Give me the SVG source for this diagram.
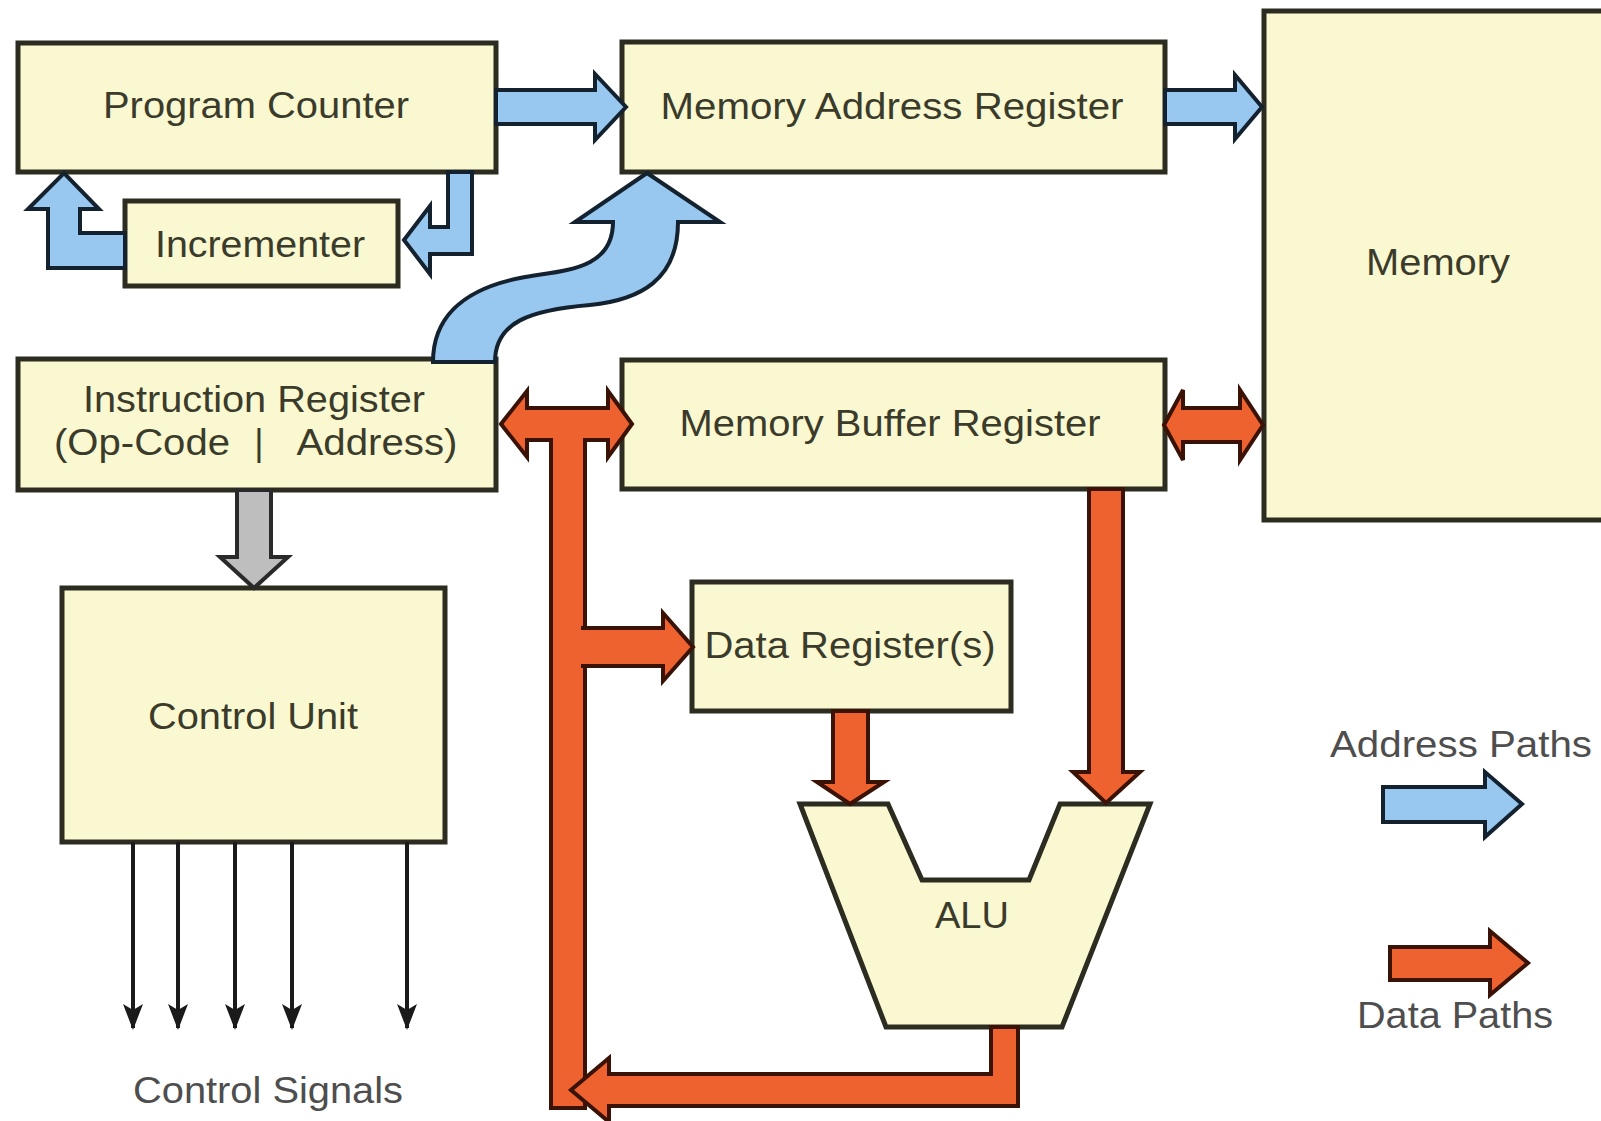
<svg xmlns="http://www.w3.org/2000/svg" width="1601" height="1121" viewBox="0 0 1601 1121">
<defs>
<style>
.box{fill:#FAF8D0;stroke:#2C2C20;stroke-width:5;}
.lbl{font-family:"Liberation Sans",Arial,sans-serif;font-size:36px;fill:#3B3B2B;text-anchor:middle;}
.note{font-family:"Liberation Sans",Arial,sans-serif;font-size:36px;fill:#4E4E4E;text-anchor:middle;}
.blue{fill:#98C7F0;stroke:#14222F;stroke-width:4;stroke-linejoin:miter;}
.red{fill:#EE6230;stroke:#3A1206;stroke-width:4;stroke-linejoin:miter;}
.redfill{fill:#EE6230;stroke:none;}
.gray{fill:#BEBEBE;stroke:#2A2A2A;stroke-width:4;}
.sig{stroke:#1A1A1A;stroke-width:4;fill:none;marker-end:url(#sa);}
</style>
<marker id="sa" viewBox="0 0 26 20" refX="24" refY="10" markerWidth="26" markerHeight="20" markerUnits="userSpaceOnUse" orient="auto">
<path d="M0,0 L26,10 L0,20 L6,10 Z" fill="#1A1A1A"/>
</marker>
</defs>
<rect width="1601" height="1121" fill="#FFFFFF"/>

<g id="node-pc"><rect class="box" x="18" y="43" width="478" height="129"/><text class="lbl" x="256" y="118" textLength="306" lengthAdjust="spacingAndGlyphs">Program Counter</text></g>
<g id="node-inc"><rect class="box" x="125" y="201" width="273" height="85"/><text class="lbl" x="260" y="257" textLength="210" lengthAdjust="spacingAndGlyphs">Incrementer</text></g>
<g id="node-mar"><rect class="box" x="622" y="42" width="543" height="130"/><text class="lbl" x="892" y="119" textLength="463" lengthAdjust="spacingAndGlyphs">Memory Address Register</text></g>
<g id="node-mem"><rect class="box" x="1264" y="11" width="400" height="509"/><text class="lbl" x="1438" y="275" textLength="144" lengthAdjust="spacingAndGlyphs">Memory</text></g>
<g id="node-ir"><rect class="box" x="18" y="359" width="478" height="131"/><text class="lbl" x="254" y="412" textLength="342" lengthAdjust="spacingAndGlyphs">Instruction Register</text><text class="lbl" y="455"><tspan x="142" textLength="176" lengthAdjust="spacingAndGlyphs">(Op-Code</tspan><tspan x="259">|</tspan><tspan x="377" textLength="161" lengthAdjust="spacingAndGlyphs">Address)</tspan></text></g>
<g id="node-mbr"><rect class="box" x="622" y="360" width="543" height="129"/><text class="lbl" x="890" y="436" textLength="421" lengthAdjust="spacingAndGlyphs">Memory Buffer Register</text></g>
<g id="node-cu"><rect class="box" x="62" y="588" width="383" height="254"/><text class="lbl" x="253" y="729" textLength="210" lengthAdjust="spacingAndGlyphs">Control Unit</text></g>
<g id="node-dr"><rect class="box" x="692" y="582" width="319" height="129"/><text class="lbl" x="850" y="658" textLength="291" lengthAdjust="spacingAndGlyphs">Data Register(s)</text></g>
<g id="node-alu"><polygon class="box" points="800,804 888,804 922,880 1029,880 1060,804 1150,804 1062,1027 886,1027"/><text class="lbl" x="972" y="928" textLength="74" lengthAdjust="spacingAndGlyphs">ALU</text></g>

<g id="connectors">
<path id="pc-mar" class="blue" d="M496,90 L595,90 L595,74 L626,107 L595,140 L595,124 L496,124 Z"/>
<path id="mar-mem" class="blue" d="M1165,90 L1235,90 L1235,75 L1262,107 L1235,139 L1235,124 L1165,124 Z"/>
<path id="pc-inc" class="blue" d="M448,172 L472,172 L472,254 L430,254 L430,274 L404,240 L430,206 L430,227 L448,227 Z"/>
<path id="inc-pc" class="blue" d="M125,233 L80,233 L80,209 L99,209 L64,173 L28,209 L48,209 L48,268 L125,268 Z"/>
<path id="ir-mar" class="blue" d="M433,362 C433,320 460,290 520,278 C560,270 613,272 613,222 L575,222 L647,173 L720,222 L678,222 C678,280 640,300 590,305 C530,310 495,322 495,362 Z"/>

<rect id="data-bus" class="red" x="551" y="436" width="34" height="672"/>
<path id="ir-mbr" class="red" d="M501,424 L527,391 L527,408 L608,408 L608,391 L632,424 L608,457 L608,440 L527,440 L527,457 Z"/>
<rect class="redfill" x="553" y="434" width="30" height="12"/>
<path id="bus-dr" class="red" d="M581,628 L663,628 L663,613 L693,647 L663,681 L663,666 L581,666"/>
<path id="alu-bus" class="red" d="M991,1027 L1018,1027 L1018,1106 L609,1106 L609,1122 L571,1090 L609,1058 L609,1074 L991,1074 Z"/>
<path id="dr-alu" class="red" d="M833,711 L868,711 L868,782 L884,782 L850,804 L817,782 L833,782 Z"/>
<path id="mbr-alu" class="red" d="M1089,489 L1123,489 L1123,772 L1140,772 L1106,803 L1073,772 L1089,772 Z"/>
<path id="mbr-mem" class="red" d="M1164,425 L1183,390 L1183,408 L1240,408 L1240,390 L1263,425 L1240,460 L1240,442 L1183,442 L1183,460 Z"/>

<path id="ir-cu" class="gray" d="M237,490 L271,490 L271,557 L288,557 L254,588 L220,557 L237,557 Z"/>

<line class="sig" x1="133" y1="842" x2="133" y2="1028"/>
<line class="sig" x1="178" y1="842" x2="178" y2="1028"/>
<line class="sig" x1="235" y1="842" x2="235" y2="1028"/>
<line class="sig" x1="292" y1="842" x2="292" y2="1028"/>
<line class="sig" x1="407" y1="842" x2="407" y2="1028"/>
</g>

<text class="note" x="268" y="1103" textLength="270" lengthAdjust="spacingAndGlyphs">Control Signals</text>

<g id="legend">
<text class="note" x="1461" y="757" textLength="262" lengthAdjust="spacingAndGlyphs">Address Paths</text>
<path class="blue" d="M1383,787 L1485,787 L1485,772 L1522,804 L1485,837 L1485,822 L1383,822 Z"/>
<path class="red" d="M1390,947 L1490,947 L1490,931 L1528,963 L1490,995 L1490,980 L1390,980 Z"/>
<text class="note" x="1455" y="1028" textLength="196" lengthAdjust="spacingAndGlyphs">Data Paths</text>
</g>
</svg>
